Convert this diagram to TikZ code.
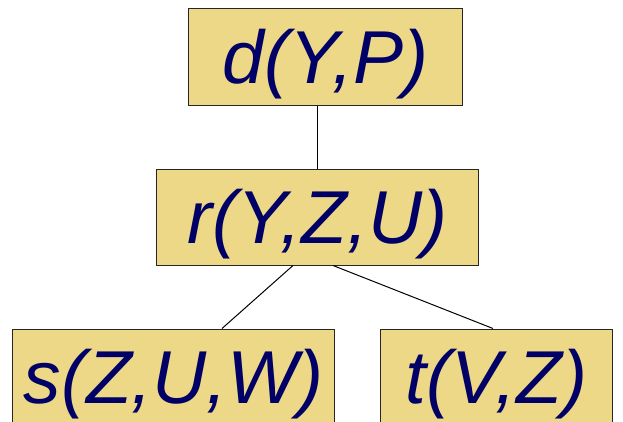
\documentclass[tikz,border=0pt]{standalone}
\usepackage{xcolor}
\usepackage{fontspec}
\setmainfont{Liberation Sans}
\usepackage{tikz}
\usetikzlibrary{calc}
\usetikzlibrary{positioning}

\definecolor{boxfill}{HTML}{ECD886}
\definecolor{atomtext}{HTML}{000066}

\begin{document}
\begin{tikzpicture}[x=0.03cm,y=0.03cm,-,
                    main node/.style={rectangle,draw=black!85,line width=0.85pt,fill=boxfill,
                                      minimum height=2.88cm,inner sep=0pt,text height=1.61cm,text depth=0pt,
                                      text=atomtext,font=\fontsize{64}{76}\selectfont\itshape}]

  \useasboundingbox (-325.5,-364) rectangle (297.5,57);

  \node[main node,minimum width=8.19cm] (1) {d(Y,P)};
  \node[main node,minimum width=9.63cm] (2) [shift={(-8,-160)}] at (1) {r(Y,Z,U)};
  \node[main node,minimum width=9.63cm] (3) [shift={(-152,-320)}] at (1) {s(Z,U,W)};
  \node[main node,minimum width=6.93cm] (4) [shift={(171,-320)}] at (1) {t(V,Z)};

  \path[line width=0.85pt]
  (2.north) edge (2.north |- 1.south)
  ($(2.south)+(-24.5,0)$) edge ($(3.north)+(48.5,0)$)
  ($(2.south)+(15.5,0)$)  edge ($(4.north)+(-3.5,0)$);

\end{tikzpicture}
\end{document}
